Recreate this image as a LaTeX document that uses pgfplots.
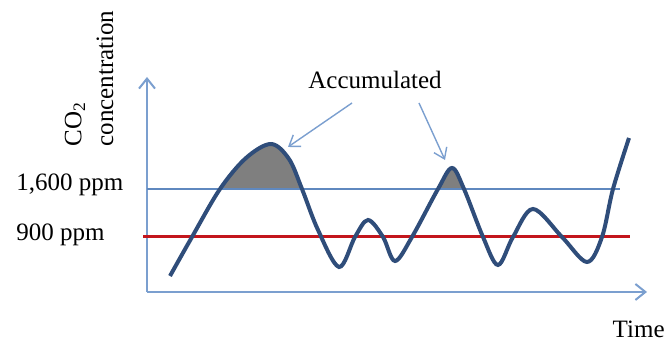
\documentclass[border=0pt]{standalone}
\usepackage{pgfplots}
\pgfplotsset{compat=1.18}
\usepgfplotslibrary{fillbetween}
\usetikzlibrary{arrows.meta}
\usepackage{fontspec}
\setmainfont{Liberation Serif}
\definecolor{curveblue}{HTML}{2F4D7A}
\definecolor{axblue}{HTML}{7B9FCF}
\definecolor{lineblue}{HTML}{5F88BF}
\definecolor{redline}{HTML}{C3161C}
\definecolor{fillgray}{HTML}{7F7F7F}
\begin{document}
\begin{tikzpicture}
\begin{axis}[
  scale only axis, width=332.5pt, height=170pt,
  xmin=0, xmax=665, ymin=0, ymax=340,
  hide axis, clip=false,
]
% axes arrows
\addplot[axblue, line width=1pt, -{Straight Barb[length=5pt,width=8pt]}] coordinates {(147,48) (147,263)};
\addplot[axblue, line width=1pt, -{Straight Barb[length=5pt,width=8pt]}] coordinates {(147,48) (647,48)};
% threshold lines
\addplot[name path=l1600, lineblue, line width=0.8pt] coordinates {(147,151) (620,151)};
\addplot[redline, line width=1.5pt] coordinates {(143,103) (630,103)};
% concentration curve
\addplot[name path=curve, curveblue, line width=2pt, smooth, tension=0.55] coordinates {
(170,64) (192,103) (220,151) (246,182) (271,196) (289,181) (302,151) (318,110)
(339,73) (355,103) (368,120) (383,103) (395,79) (412,103) (438,151) (452,172)
(464,151) (483,103) (498,75) (513,103) (533,131) (562,103) (587,78) (602,103)
(613,151) (629,202)};
\addplot[fillgray] fill between[of=curve and l1600, soft clip={domain=219:303}];
\addplot[fillgray] fill between[of=curve and l1600, soft clip={domain=437:465}];
% annotation arrows
\addplot[axblue, line width=0.7pt, -{Straight Barb[length=5pt,width=7pt]}] coordinates {(352,237) (288,193)};
\addplot[axblue, line width=0.7pt, -{Straight Barb[length=5pt,width=7pt]}] coordinates {(419,237) (445,180)};
% texts
\node[font=\fontsize{12.5}{15}\selectfont] at (axis cs:375,260) {Accumulated};
\node[font=\fontsize{12.5}{15}\selectfont, anchor=west, inner sep=0pt] at (axis cs:16,155) {1,600 ppm};
\node[font=\fontsize{12.5}{15}\selectfont, anchor=west, inner sep=0pt] at (axis cs:16,105) {900 ppm};
\node[font=\fontsize{12.5}{15}\selectfont, anchor=east, inner sep=0pt] at (axis cs:665,11) {Time};
\node[font=\fontsize{12.5}{15}\selectfont, rotate=90, anchor=west, inner sep=0pt] at (axis cs:75,193) {CO\textsubscript{2}};
\node[font=\fontsize{12.5}{15}\selectfont, rotate=90, anchor=west, inner sep=0pt] at (axis cs:105,193) {concentration};
\end{axis}
\pgfresetboundingbox
\path (0,0) rectangle (332.5pt,170pt);
\end{tikzpicture}
\end{document}
